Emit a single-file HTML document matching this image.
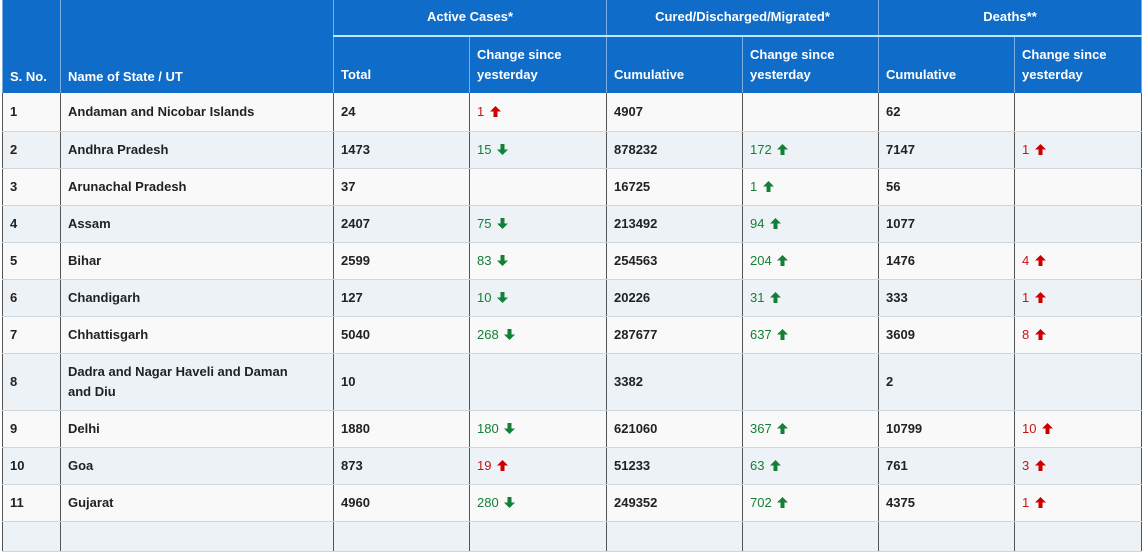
<!DOCTYPE html>
<html><head><meta charset="utf-8"><style>
body{margin:0;width:1145px;height:527px;overflow:hidden;background:#fff;font-family:"Liberation Sans",Arial,sans-serif;}
table{position:absolute;left:2px;top:0;border-collapse:collapse;table-layout:fixed;width:1139px;}
th{background:#0f6cc8;color:#fff;font-size:13px;font-weight:bold;text-align:left;padding:0 7px;border-left:1px solid #7aaee0;border-right:1px solid #7aaee0;vertical-align:bottom;}
th.g{text-align:center;vertical-align:top;padding-top:9px;border-bottom:2px solid #bfe6ff;}
tr.h2 th{padding-bottom:8px;line-height:20px;}
td{font-size:13px;color:#222;font-weight:bold;padding:0 7px;border-left:1px solid #555;border-right:1px solid #555;border-bottom:1px solid #cfd5dc;line-height:20px;}
tr.o td{background:#f9f9f9;}
tr.e td{background:#edf2f7;}
td.c{font-weight:normal;}
.g1{color:#138036}.r1{color:#c81414}
svg{vertical-align:-1px;margin-left:2px}
</style></head><body>
<table>
<colgroup><col style="width:58px"><col style="width:273px"><col style="width:136px"><col style="width:137px"><col style="width:136px"><col style="width:136px"><col style="width:136px"><col style="width:127px"></colgroup>
<tr style="height:36px"><th rowspan="2" style="padding-bottom:9px">S. No.</th><th rowspan="2" style="padding-bottom:9px">Name of State / UT</th><th colspan="2" class="g">Active Cases*</th><th colspan="2" class="g">Cured/Discharged/Migrated*</th><th colspan="2" class="g">Deaths**</th></tr>
<tr class="h2" style="height:57px"><th>Total</th><th>Change since yesterday</th><th>Cumulative</th><th>Change since yesterday</th><th>Cumulative</th><th>Change since yesterday</th></tr>
<tr class="o" style="height:38px"><td>1</td><td>Andaman and Nicobar Islands</td><td>24</td><td class="c r1">1 <svg width="11" height="11"><path fill="#c00" d="M5.5 0L11 5.5H7.5V11H3.5V5.5H0Z"/></svg></td><td>4907</td><td class="c"></td><td>62</td><td class="c"></td></tr>
<tr class="e" style="height:37px"><td>2</td><td>Andhra Pradesh</td><td>1473</td><td class="c g1">15 <svg width="11" height="11"><path fill="#138036" d="M5.5 11L11 5.5H7.5V0H3.5V5.5H0Z"/></svg></td><td>878232</td><td class="c g1">172 <svg width="11" height="11"><path fill="#138036" d="M5.5 0L11 5.5H7.5V11H3.5V5.5H0Z"/></svg></td><td>7147</td><td class="c r1">1 <svg width="11" height="11"><path fill="#c00" d="M5.5 0L11 5.5H7.5V11H3.5V5.5H0Z"/></svg></td></tr>
<tr class="o" style="height:37px"><td>3</td><td>Arunachal Pradesh</td><td>37</td><td class="c"></td><td>16725</td><td class="c g1">1 <svg width="11" height="11"><path fill="#138036" d="M5.5 0L11 5.5H7.5V11H3.5V5.5H0Z"/></svg></td><td>56</td><td class="c"></td></tr>
<tr class="e" style="height:37px"><td>4</td><td>Assam</td><td>2407</td><td class="c g1">75 <svg width="11" height="11"><path fill="#138036" d="M5.5 11L11 5.5H7.5V0H3.5V5.5H0Z"/></svg></td><td>213492</td><td class="c g1">94 <svg width="11" height="11"><path fill="#138036" d="M5.5 0L11 5.5H7.5V11H3.5V5.5H0Z"/></svg></td><td>1077</td><td class="c"></td></tr>
<tr class="o" style="height:37px"><td>5</td><td>Bihar</td><td>2599</td><td class="c g1">83 <svg width="11" height="11"><path fill="#138036" d="M5.5 11L11 5.5H7.5V0H3.5V5.5H0Z"/></svg></td><td>254563</td><td class="c g1">204 <svg width="11" height="11"><path fill="#138036" d="M5.5 0L11 5.5H7.5V11H3.5V5.5H0Z"/></svg></td><td>1476</td><td class="c r1">4 <svg width="11" height="11"><path fill="#c00" d="M5.5 0L11 5.5H7.5V11H3.5V5.5H0Z"/></svg></td></tr>
<tr class="e" style="height:37px"><td>6</td><td>Chandigarh</td><td>127</td><td class="c g1">10 <svg width="11" height="11"><path fill="#138036" d="M5.5 11L11 5.5H7.5V0H3.5V5.5H0Z"/></svg></td><td>20226</td><td class="c g1">31 <svg width="11" height="11"><path fill="#138036" d="M5.5 0L11 5.5H7.5V11H3.5V5.5H0Z"/></svg></td><td>333</td><td class="c r1">1 <svg width="11" height="11"><path fill="#c00" d="M5.5 0L11 5.5H7.5V11H3.5V5.5H0Z"/></svg></td></tr>
<tr class="o" style="height:37px"><td>7</td><td>Chhattisgarh</td><td>5040</td><td class="c g1">268 <svg width="11" height="11"><path fill="#138036" d="M5.5 11L11 5.5H7.5V0H3.5V5.5H0Z"/></svg></td><td>287677</td><td class="c g1">637 <svg width="11" height="11"><path fill="#138036" d="M5.5 0L11 5.5H7.5V11H3.5V5.5H0Z"/></svg></td><td>3609</td><td class="c r1">8 <svg width="11" height="11"><path fill="#c00" d="M5.5 0L11 5.5H7.5V11H3.5V5.5H0Z"/></svg></td></tr>
<tr class="e" style="height:57px"><td>8</td><td style="padding-right:22px">Dadra and Nagar Haveli and Daman and Diu</td><td>10</td><td class="c"></td><td>3382</td><td class="c"></td><td>2</td><td class="c"></td></tr>
<tr class="o" style="height:37px"><td>9</td><td>Delhi</td><td>1880</td><td class="c g1">180 <svg width="11" height="11"><path fill="#138036" d="M5.5 11L11 5.5H7.5V0H3.5V5.5H0Z"/></svg></td><td>621060</td><td class="c g1">367 <svg width="11" height="11"><path fill="#138036" d="M5.5 0L11 5.5H7.5V11H3.5V5.5H0Z"/></svg></td><td>10799</td><td class="c r1">10 <svg width="11" height="11"><path fill="#c00" d="M5.5 0L11 5.5H7.5V11H3.5V5.5H0Z"/></svg></td></tr>
<tr class="e" style="height:37px"><td>10</td><td>Goa</td><td>873</td><td class="c r1">19 <svg width="11" height="11"><path fill="#c00" d="M5.5 0L11 5.5H7.5V11H3.5V5.5H0Z"/></svg></td><td>51233</td><td class="c g1">63 <svg width="11" height="11"><path fill="#138036" d="M5.5 0L11 5.5H7.5V11H3.5V5.5H0Z"/></svg></td><td>761</td><td class="c r1">3 <svg width="11" height="11"><path fill="#c00" d="M5.5 0L11 5.5H7.5V11H3.5V5.5H0Z"/></svg></td></tr>
<tr class="o" style="height:37px"><td>11</td><td>Gujarat</td><td>4960</td><td class="c g1">280 <svg width="11" height="11"><path fill="#138036" d="M5.5 11L11 5.5H7.5V0H3.5V5.5H0Z"/></svg></td><td>249352</td><td class="c g1">702 <svg width="11" height="11"><path fill="#138036" d="M5.5 0L11 5.5H7.5V11H3.5V5.5H0Z"/></svg></td><td>4375</td><td class="c r1">1 <svg width="11" height="11"><path fill="#c00" d="M5.5 0L11 5.5H7.5V11H3.5V5.5H0Z"/></svg></td></tr>
<tr class="e" style="height:30px"><td></td><td></td><td></td><td class="c"></td><td></td><td class="c"></td><td></td><td class="c"></td></tr>
</table>
</body></html>
